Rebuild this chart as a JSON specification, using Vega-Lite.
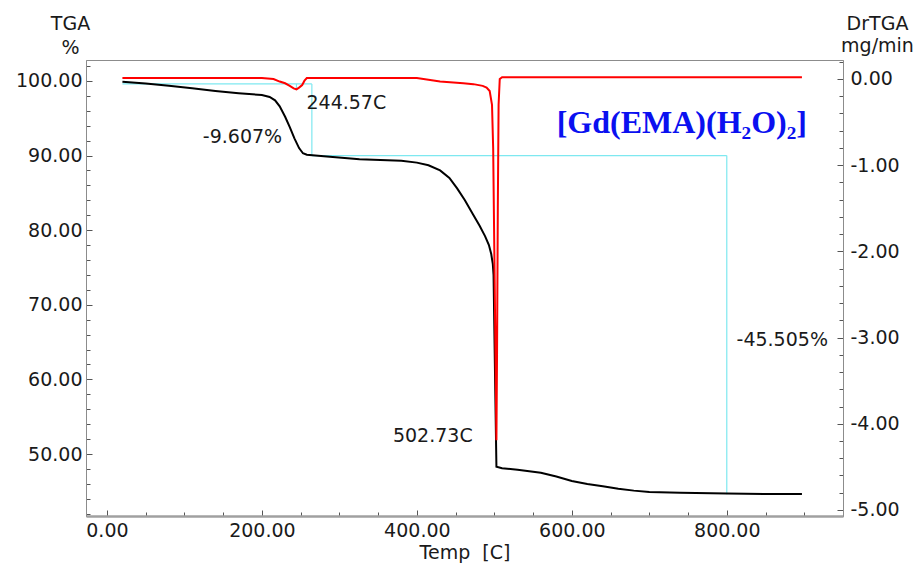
{
  "$schema": "https://vega.github.io/schema/vega-lite/v6.json",
  "width": 757,
  "height": 456,
  "autosize": "none",
  "padding": {"left": 86, "top": 60, "right": 79, "bottom": 51},
  "background": "white",
  "config": {
    "view": {"stroke": "#8c8c8c", "strokeWidth": 1},
    "font": "DejaVu Sans",
    "axis": {
      "labelFont": "DejaVu Sans",
      "labelFontSize": 19,
      "labelColor": "#1a1a1a",
      "titleFont": "DejaVu Sans",
      "titleFontSize": 19,
      "titleFontWeight": "normal",
      "titleColor": "#1a1a1a",
      "grid": false,
      "domainColor": "#8c8c8c",
      "tickColor": "#555555"
    }
  },
  "datasets": {
    "tga": [
      {"T": 20, "w": 99.9}, {"T": 50, "w": 99.65}, {"T": 80, "w": 99.35}, {"T": 110, "w": 99.0},
      {"T": 140, "w": 98.65}, {"T": 170, "w": 98.35}, {"T": 200, "w": 98.1}, {"T": 210, "w": 97.85},
      {"T": 217, "w": 97.4}, {"T": 223, "w": 96.6}, {"T": 230, "w": 95.2}, {"T": 236, "w": 93.8},
      {"T": 242, "w": 92.3}, {"T": 248, "w": 91.0}, {"T": 253, "w": 90.3}, {"T": 258, "w": 90.1},
      {"T": 280, "w": 89.9}, {"T": 326, "w": 89.5}, {"T": 380, "w": 89.3}, {"T": 400, "w": 89.05},
      {"T": 415, "w": 88.7}, {"T": 430, "w": 88.0}, {"T": 442, "w": 87.0}, {"T": 452, "w": 85.6},
      {"T": 462, "w": 84.0}, {"T": 472, "w": 82.2}, {"T": 481, "w": 80.6}, {"T": 488, "w": 79.2},
      {"T": 493, "w": 78.0}, {"T": 496, "w": 76.8}, {"T": 498, "w": 75.5}, {"T": 499, "w": 74.0},
      {"T": 501, "w": 60.0}, {"T": 502.7, "w": 48.3}, {"T": 510, "w": 48.1}, {"T": 530, "w": 47.9},
      {"T": 560, "w": 47.5}, {"T": 580, "w": 47.0}, {"T": 600, "w": 46.4}, {"T": 620, "w": 46.0},
      {"T": 640, "w": 45.7}, {"T": 660, "w": 45.35}, {"T": 680, "w": 45.1}, {"T": 700, "w": 44.9},
      {"T": 740, "w": 44.8}, {"T": 800, "w": 44.7}, {"T": 850, "w": 44.65}, {"T": 897, "w": 44.65}
    ],
    "dtg": [
      {"T": 20, "d": 0.01}, {"T": 100, "d": 0.01}, {"T": 200, "d": 0.01}, {"T": 215, "d": 0.0},
      {"T": 223, "d": -0.03}, {"T": 230, "d": -0.05}, {"T": 236, "d": -0.08}, {"T": 241, "d": -0.11},
      {"T": 244.6, "d": -0.12}, {"T": 248, "d": -0.1}, {"T": 252, "d": -0.07}, {"T": 255, "d": -0.02},
      {"T": 258, "d": 0.01}, {"T": 300, "d": 0.01}, {"T": 400, "d": 0.01}, {"T": 430, "d": -0.03},
      {"T": 460, "d": -0.05}, {"T": 473, "d": -0.06}, {"T": 485, "d": -0.08}, {"T": 490, "d": -0.1},
      {"T": 494, "d": -0.14}, {"T": 497, "d": -0.3}, {"T": 498.5, "d": -0.8}, {"T": 500, "d": -2.0},
      {"T": 501.5, "d": -3.2}, {"T": 502.7, "d": -4.19}, {"T": 503.5, "d": -3.2}, {"T": 504.5, "d": -1.5},
      {"T": 505.5, "d": -0.3}, {"T": 507, "d": 0.0}, {"T": 510, "d": 0.02}, {"T": 600, "d": 0.02},
      {"T": 700, "d": 0.02}, {"T": 800, "d": 0.02}, {"T": 897, "d": 0.02}
    ],
    "cyan": [
      {"x1": 20, "x2": 264.5, "y1": 99.6, "y2": 99.6},
      {"x1": 264.5, "x2": 264.5, "y1": 99.6, "y2": 90.0},
      {"x1": 264.5, "x2": 800, "y1": 90.0, "y2": 90.0},
      {"x1": 800, "x2": 800, "y1": 90.0, "y2": 44.6},
      {"x1": 244.6, "x2": 244.6, "y1": 99.6, "y2": 99.0}
    ],
    "labels": [
      {"T": 309, "w": 97.05, "t": "244.57C"},
      {"T": 175, "w": 92.5, "t": "-9.607%"},
      {"T": 420.6, "w": 52.4, "t": "502.73C"},
      {"T": 871.6, "w": 65.3, "t": "-45.505%"}
    ],
    "compound": [
      {"T": 742, "w": 94.4, "t": "[Gd(EMA)(H₂O)₂]"}
    ]
  },
  "resolve": {
    "scale": {"x": "independent", "y": "independent"},
    "axis": {"x": "independent", "y": "independent"}
  },
  "layer": [
    {
      "data": {"name": "cyan"},
      "mark": {"type": "rule", "color": "#7ee8f0", "strokeWidth": 1.2},
      "encoding": {
        "x": {"field": "x1", "type": "quantitative", "scale": {"domain": [-27, 950], "nice": false, "zero": false},
          "axis": {"orient": "bottom", "values": [50, 100, 150, 250, 300, 350, 450, 500, 550, 650, 700, 750, 850, 900], "labels": false, "domain": false, "tickSize": -4, "title": null}},
        "x2": {"field": "x2"},
        "y": {"field": "y1", "type": "quantitative", "scale": {"domain": [41.7, 102.8], "nice": false, "zero": false},
          "axis": {"orient": "left", "values": [42, 44, 46, 48, 52, 54, 56, 58, 62, 64, 66, 68, 72, 74, 76, 78, 82, 84, 86, 88, 92, 94, 96, 98, 102], "labels": false, "domain": false, "tickSize": -4, "title": null}},
        "y2": {"field": "y2"}
      }
    },
    {
      "data": {"name": "dtg"},
      "mark": {"type": "line", "opacity": 0},
      "encoding": {
        "x": {"field": "T", "type": "quantitative", "scale": {"domain": [-27, 950], "nice": false, "zero": false}, "axis": null},
        "y": {"field": "d", "type": "quantitative", "scale": {"domain": [-5.07, 0.22], "nice": false, "zero": false},
          "axis": {"orient": "right", "values": [0.2, -0.2, -0.4, -0.6, -0.8, -1.2, -1.4, -1.6, -1.8, -2.2, -2.4, -2.6, -2.8, -3.2, -3.4, -3.6, -3.8, -4.2, -4.4, -4.6, -4.8], "labels": false, "domain": false, "tickSize": -4, "title": null}}
      }
    },
    {
      "data": {"name": "tga"},
      "mark": {"type": "line", "color": "#000000", "strokeWidth": 2},
      "encoding": {
        "x": {"field": "T", "type": "quantitative", "scale": {"domain": [-27, 950], "nice": false, "zero": false},
          "axis": {"orient": "bottom", "values": [0, 200, 400, 600, 800], "format": ".2f", "tickSize": -6, "labelPadding": 11, "domainColor": "#a0a0a0", "domainWidth": 2.5, "title": "Temp\u00a0\u00a0[C]", "titlePadding": 3}},
        "y": {"field": "w", "type": "quantitative", "scale": {"domain": [41.7, 102.8], "nice": false, "zero": false},
          "axis": {"orient": "left", "values": [50, 60, 70, 80, 90, 100], "format": ".2f", "tickSize": -6, "labelPadding": 10,
            "title": ["TGA", "%"], "titleAngle": 0, "titleX": -16, "titleY": -46, "titleAlign": "center", "titleBaseline": "top", "titleLineHeight": 24}}
      }
    },
    {
      "data": {"name": "dtg"},
      "mark": {"type": "line", "color": "#ff0000", "strokeWidth": 2},
      "encoding": {
        "x": {"field": "T", "type": "quantitative", "scale": {"domain": [-27, 950], "nice": false, "zero": false}, "axis": null},
        "y": {"field": "d", "type": "quantitative", "scale": {"domain": [-5.07, 0.22], "nice": false, "zero": false},
          "axis": {"orient": "right", "values": [0, -1, -2, -3, -4, -5], "labelExpr": "replace(format(datum.value, '.2f'), '\u2212', '-')", "tickSize": -6, "labelPadding": 13,
            "title": ["DrTGA", "mg/min"], "titleAngle": 0, "titleX": 34, "titleY": -46, "titleAlign": "center", "titleBaseline": "top", "titleLineHeight": 22}}
      }
    },
    {
      "data": {"name": "labels"},
      "mark": {"type": "text", "font": "DejaVu Sans", "fontSize": 19, "color": "#1a1a1a", "align": "center", "baseline": "middle"},
      "encoding": {
        "x": {"field": "T", "type": "quantitative", "scale": {"domain": [-27, 950], "nice": false, "zero": false}, "axis": null},
        "y": {"field": "w", "type": "quantitative", "scale": {"domain": [41.7, 102.8], "nice": false, "zero": false}, "axis": null},
        "text": {"field": "t"}
      }
    },
    {
      "data": {"name": "compound"},
      "mark": {"type": "text", "font": "Liberation Serif", "fontWeight": "bold", "fontSize": 32, "color": "#0a10f0", "align": "center", "baseline": "middle"},
      "encoding": {
        "x": {"field": "T", "type": "quantitative", "scale": {"domain": [-27, 950], "nice": false, "zero": false}, "axis": null},
        "y": {"field": "w", "type": "quantitative", "scale": {"domain": [41.7, 102.8], "nice": false, "zero": false}, "axis": null},
        "text": {"field": "t"}
      }
    }
  ]
}
